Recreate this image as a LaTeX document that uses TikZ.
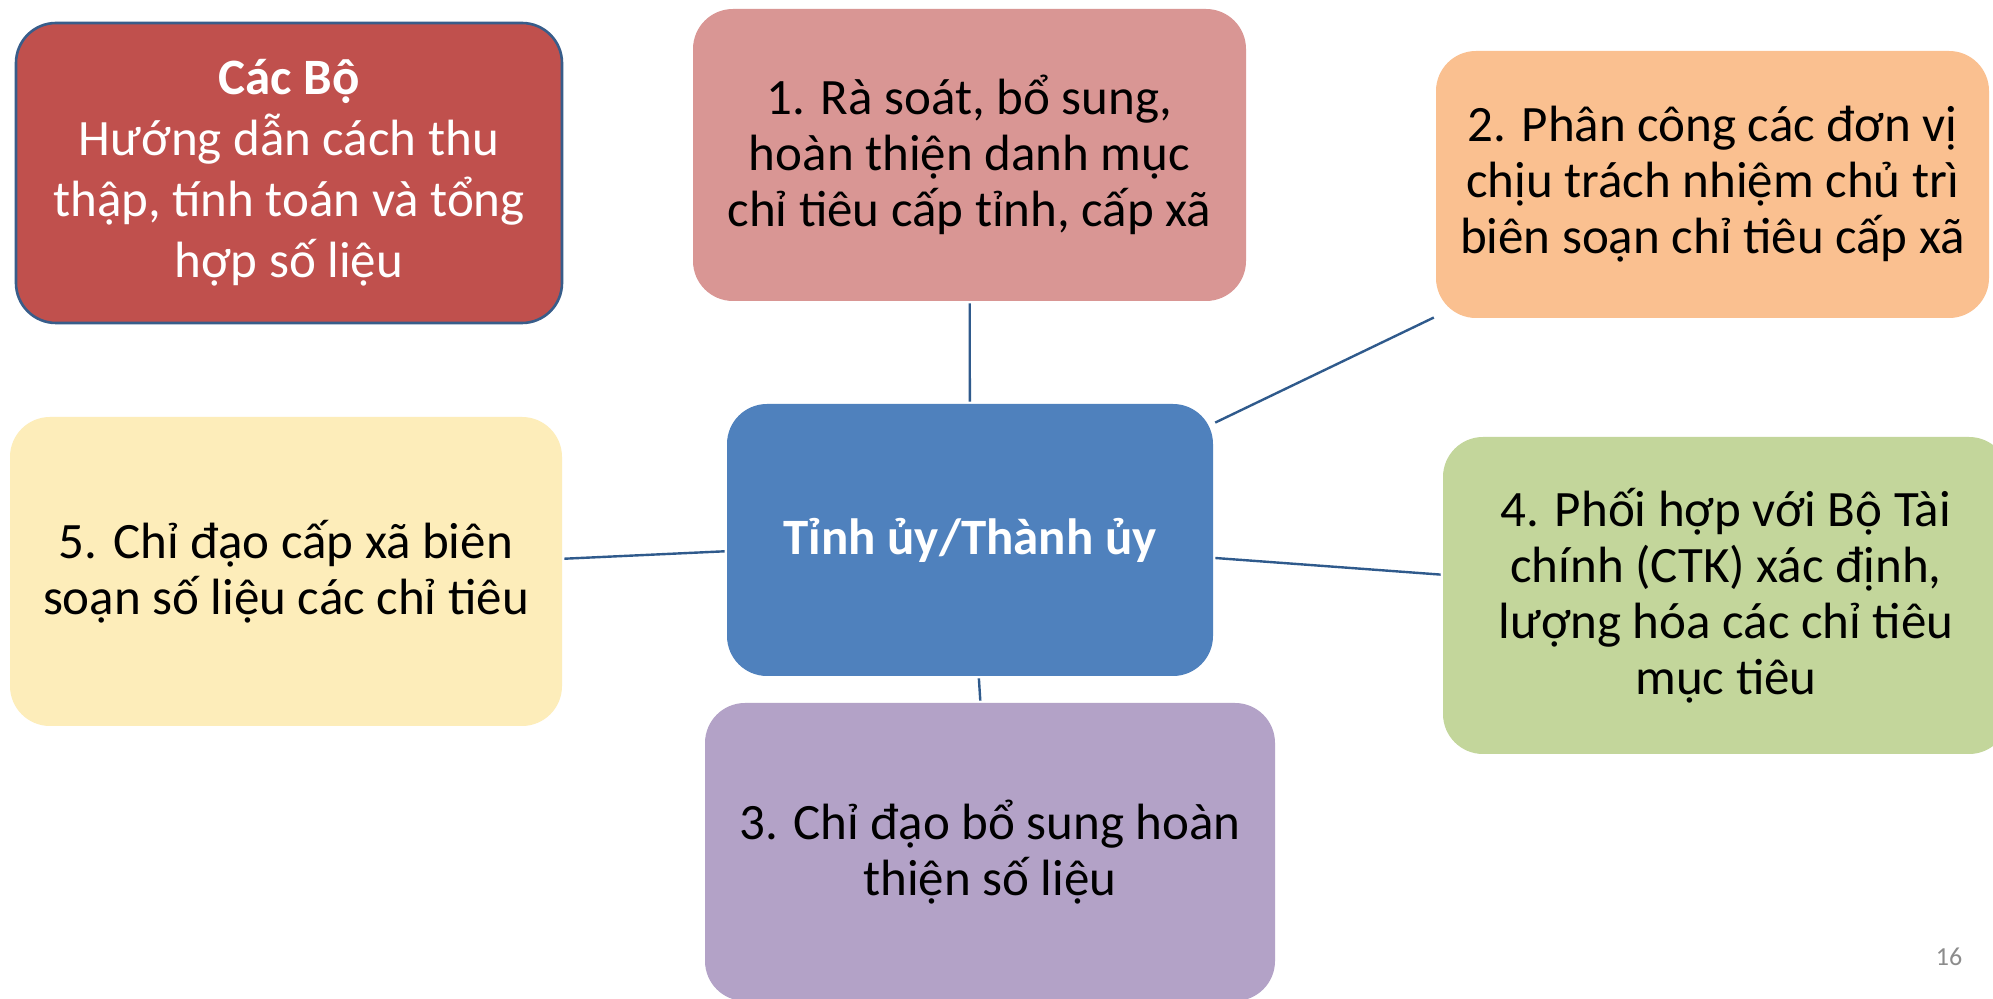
\documentclass[tikz,border=0pt]{standalone}
\usepackage{fontspec}
\setmainfont{Carlito}
\definecolor{cred}{HTML}{C0504D}
\definecolor{cborder}{HTML}{385D8A}
\definecolor{cpink}{HTML}{D99694}
\definecolor{corange}{HTML}{FAC090}
\definecolor{cblue}{HTML}{4F81BD}
\definecolor{cgreen}{HTML}{C3D69B}
\definecolor{cyellow}{HTML}{FDEDBA}
\definecolor{cpurple}{HTML}{B3A2C7}
\definecolor{cline}{HTML}{2F5A8C}
\definecolor{cgray}{HTML}{8C8C8C}
\tikzset{
  box/.style={rectangle, rounded corners=20pt, inner sep=0pt, align=center,
    font=\fontsize{25.5pt}{28pt}\selectfont, text=black},
  conn/.style={draw=cline, line width=1.2pt, shorten <=1pt, shorten >=1pt}
}
\begin{document}
\begin{tikzpicture}[x=0.5pt,y=-0.5pt]
\useasboundingbox (0,0) rectangle (1993,999);
\clip (0,0) rectangle (1993,999);
\fill[white] (0,0) rectangle (1993,999);

\node[box, fill=cred, draw=cborder, line width=1.3pt, text=white,
  font=\fontsize{25.5pt}{30.5pt}\selectfont,
  minimum width=273pt, minimum height=150pt] (bo) at (289,173)
  {\textbf{Các Bộ}\\Hướng dẫn cách thu\\thập, tính toán và tổng\\hợp số liệu};

\node[box, fill=cpink, minimum width=276.5pt, minimum height=146pt] (b1) at (969.5,155)
  {1. Rà soát, bổ sung,\\hoàn thiện danh mục\\chỉ tiêu cấp tỉnh, cấp xã};

\node[box, fill=corange, minimum width=276.5pt, minimum height=133.5pt] (b2) at (1712.5,184.5)
  {2. Phân công các đơn vị\\chịu trách nhiệm chủ trì\\biên soạn chỉ tiêu cấp xã};

\node[box, fill=cblue, text=white, minimum width=243pt, minimum height=136pt] (c) at (970,540)
  {\textbf{Tỉnh ủy/Thành ủy}};

\node[box, fill=cgreen, minimum width=283pt, minimum height=158.5pt] (b4) at (1726,595.5)
  {4. Phối hợp với Bộ Tài\\chính (CTK) xác định,\\lượng hóa các chỉ tiêu\\mục tiêu};

\node[box, fill=cpurple, minimum width=285pt, minimum height=149pt] (b3) at (990,852)
  {3. Chỉ đạo bổ sung hoàn\\thiện số liệu};

\node[box, fill=cyellow, minimum width=276pt, minimum height=154.5pt] (b5) at (286,571.5)
  {5. Chỉ đạo cấp xã biên\\soạn số liệu các chỉ tiêu};

\node[text=cgray, font=\fontsize{13pt}{15pt}\selectfont] (pg) at (1949,957) {16};

\draw[conn] (b1) -- (c);
\draw[conn] (c) -- (b2);
\draw[conn] (c) -- (b4);
\draw[conn] (c) -- (b3);
\draw[conn] (c) -- (b5);
\end{tikzpicture}
\end{document}
